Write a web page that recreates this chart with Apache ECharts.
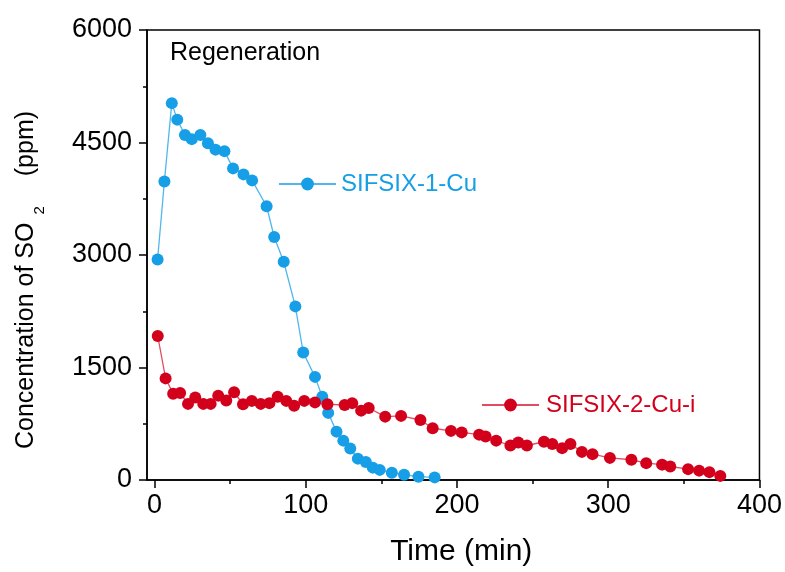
<!DOCTYPE html>
<html>
<head>
<meta charset="utf-8">
<script src="https://cdn.jsdelivr.net/npm/echarts@6/dist/echarts.min.js"></script>
<style>
html,body{margin:0;padding:0;background:#fff;}
#chart{width:785px;height:572px;}
</style>
</head>
<body>
<div id="chart"></div>
<script>
// ---- data ----
var seriesNames = ['SIFSIX-1-Cu', 'SIFSIX-2-Cu-i'];
var blueTime = [2, 6.5, 11.4, 15, 20.1, 24.6, 30.3, 35.3, 40.3, 46.2, 51.9, 58.8, 64.5, 74.1, 79.1, 85.4, 93.1, 98.3, 106.1, 110.9, 114.8, 120.3, 124.8, 129.4, 134.4, 139.7, 144.3, 148.9, 156.9, 165, 174.5, 185.2];
var blueConc = [2940, 3980, 5025, 4805, 4600, 4545, 4600, 4490, 4405, 4385, 4155, 4075, 3995, 3650, 3240, 2910, 2315, 1700, 1375, 1110, 895, 645, 525, 420, 285, 240, 165, 135, 98, 70, 44, 35];
var redTime = [2.1, 7.3, 12.3, 16.9, 22.1, 26.9, 32.2, 37.1, 42.1, 47.4, 52.6, 58.5, 64.3, 70.2, 75.9, 81.4, 87.1, 92.3, 99, 106.1, 114.3, 125.7, 130.7, 136.6, 141.6, 152.5, 163, 175.8, 183.9, 196, 203.1, 214.6, 218.9, 225.9, 235.3, 240.5, 246.2, 257.5, 263, 269.5, 275, 282.6, 289.6, 301.1, 315.3, 325.1, 335.6, 341, 352.8, 360.1, 366.9, 374.1];
var redConc = [1920, 1355, 1150, 1160, 1015, 1100, 1015, 1015, 1125, 1060, 1170, 1010, 1055, 1015, 1025, 1110, 1055, 990, 1055, 1035, 1010, 1000, 1025, 925, 960, 845, 855, 800, 690, 655, 635, 605, 580, 525, 460, 500, 460, 510, 480, 425, 480, 375, 345, 295, 270, 225, 205, 180, 145, 125, 105, 55];
var xTickValues = [0, 100, 200, 300, 400];
var xMinorTickValues = [50, 150, 250, 350];
var annotation = 'Regeneration';

function pairs(xs, ys) { return xs.map(function (x, i) { return [x, ys[i]]; }); }

var BLUE = '#169ee6';
var RED = '#d3001c';
var FONT = '"Liberation Sans", Arial, sans-serif';

var chart = echarts.init(document.getElementById('chart'), null, {renderer: 'canvas'});
chart.setOption({
  animation: false,
  backgroundColor: '#fff',
  grid: {left: 147, right: 19, top: 30, bottom: 92, show: true, borderColor: '#000', borderWidth: 1.5, containLabel: false},
  legend: [
    {data: [seriesNames[0]], left: 278, top: 172, padding: 0, itemWidth: 57, itemHeight: 16, itemGap: 0,
     textStyle: {color: BLUE, fontSize: 24, fontFamily: FONT, padding: [0, 0, 0, 0]}},
    {data: [seriesNames[1]], left: 481, top: 393, padding: 0, itemWidth: 57, itemHeight: 16, itemGap: 0,
     textStyle: {color: RED, fontSize: 24, fontFamily: FONT, padding: [0, 0, 0, 2]}}
  ],
  xAxis: [{
    type: 'value', min: -5, max: 400,
    name: 'Time (min)', nameLocation: 'middle', nameGap: 57,
    nameTextStyle: {fontSize: 30, fontFamily: FONT, color: '#000', padding: [0, 0, 0, 16]},
    axisLine: {show: true, onZero: false, lineStyle: {color: '#000', width: 1.5}},
    axisTick: {show: true, inside: false, length: 8, customValues: xTickValues, lineStyle: {color: '#000', width: 1.5}},
    axisLabel: {show: true, margin: 12, fontSize: 27, fontFamily: FONT, color: '#000', customValues: xTickValues},
    splitLine: {show: false}
  }, {
    type: 'value', min: -5, max: 400, position: 'bottom',
    axisLine: {show: false, onZero: false},
    axisTick: {show: true, inside: false, length: 4, customValues: xMinorTickValues, lineStyle: {color: '#000', width: 1.5}},
    axisLabel: {show: false},
    splitLine: {show: false}
  }],
  yAxis: {
    type: 'value', min: 0, max: 6000, interval: 1500,
    name: 'Concentration of SO{s|2}(ppm)', nameLocation: 'middle', nameGap: 100, nameRotate: 90,
    nameTextStyle: {fontSize: 25, fontFamily: FONT, color: '#000', padding: [0, 50, 0, 0],
      rich: {s: {fontSize: 15, fontFamily: FONT, color: '#000', padding: [27, 30, 0, 8]}}},
    axisLine: {show: true, onZero: false, lineStyle: {color: '#000', width: 1.5}},
    axisTick: {show: true, inside: false, length: 8, lineStyle: {color: '#000', width: 1.5}},
    minorTick: {show: true, splitNumber: 2, length: 4, lineStyle: {color: '#000', width: 1.5}},
    axisLabel: {margin: 15, fontSize: 27, fontFamily: FONT, color: '#000',
      formatter: function (v) { return String(v); }},
    splitLine: {show: false}
  },
  graphic: [{
    type: 'text', left: 170, top: 41,
    style: {text: annotation, fontSize: 25, fontFamily: FONT, fill: '#000'}
  }],
  series: [{
    name: seriesNames[0], type: 'line', xAxisIndex: 0,
    data: pairs(blueTime, blueConc),
    symbol: 'circle', symbolSize: 12, showAllSymbol: true,
    lineStyle: {color: BLUE, width: 1.3, opacity: 0.75}, itemStyle: {color: BLUE}
  }, {
    name: seriesNames[1], type: 'line', xAxisIndex: 0,
    data: pairs(redTime, redConc),
    symbol: 'circle', symbolSize: 12, showAllSymbol: true,
    lineStyle: {color: RED, width: 1.3, opacity: 0.7}, itemStyle: {color: RED}
  }]
});
</script>
</body>
</html>
